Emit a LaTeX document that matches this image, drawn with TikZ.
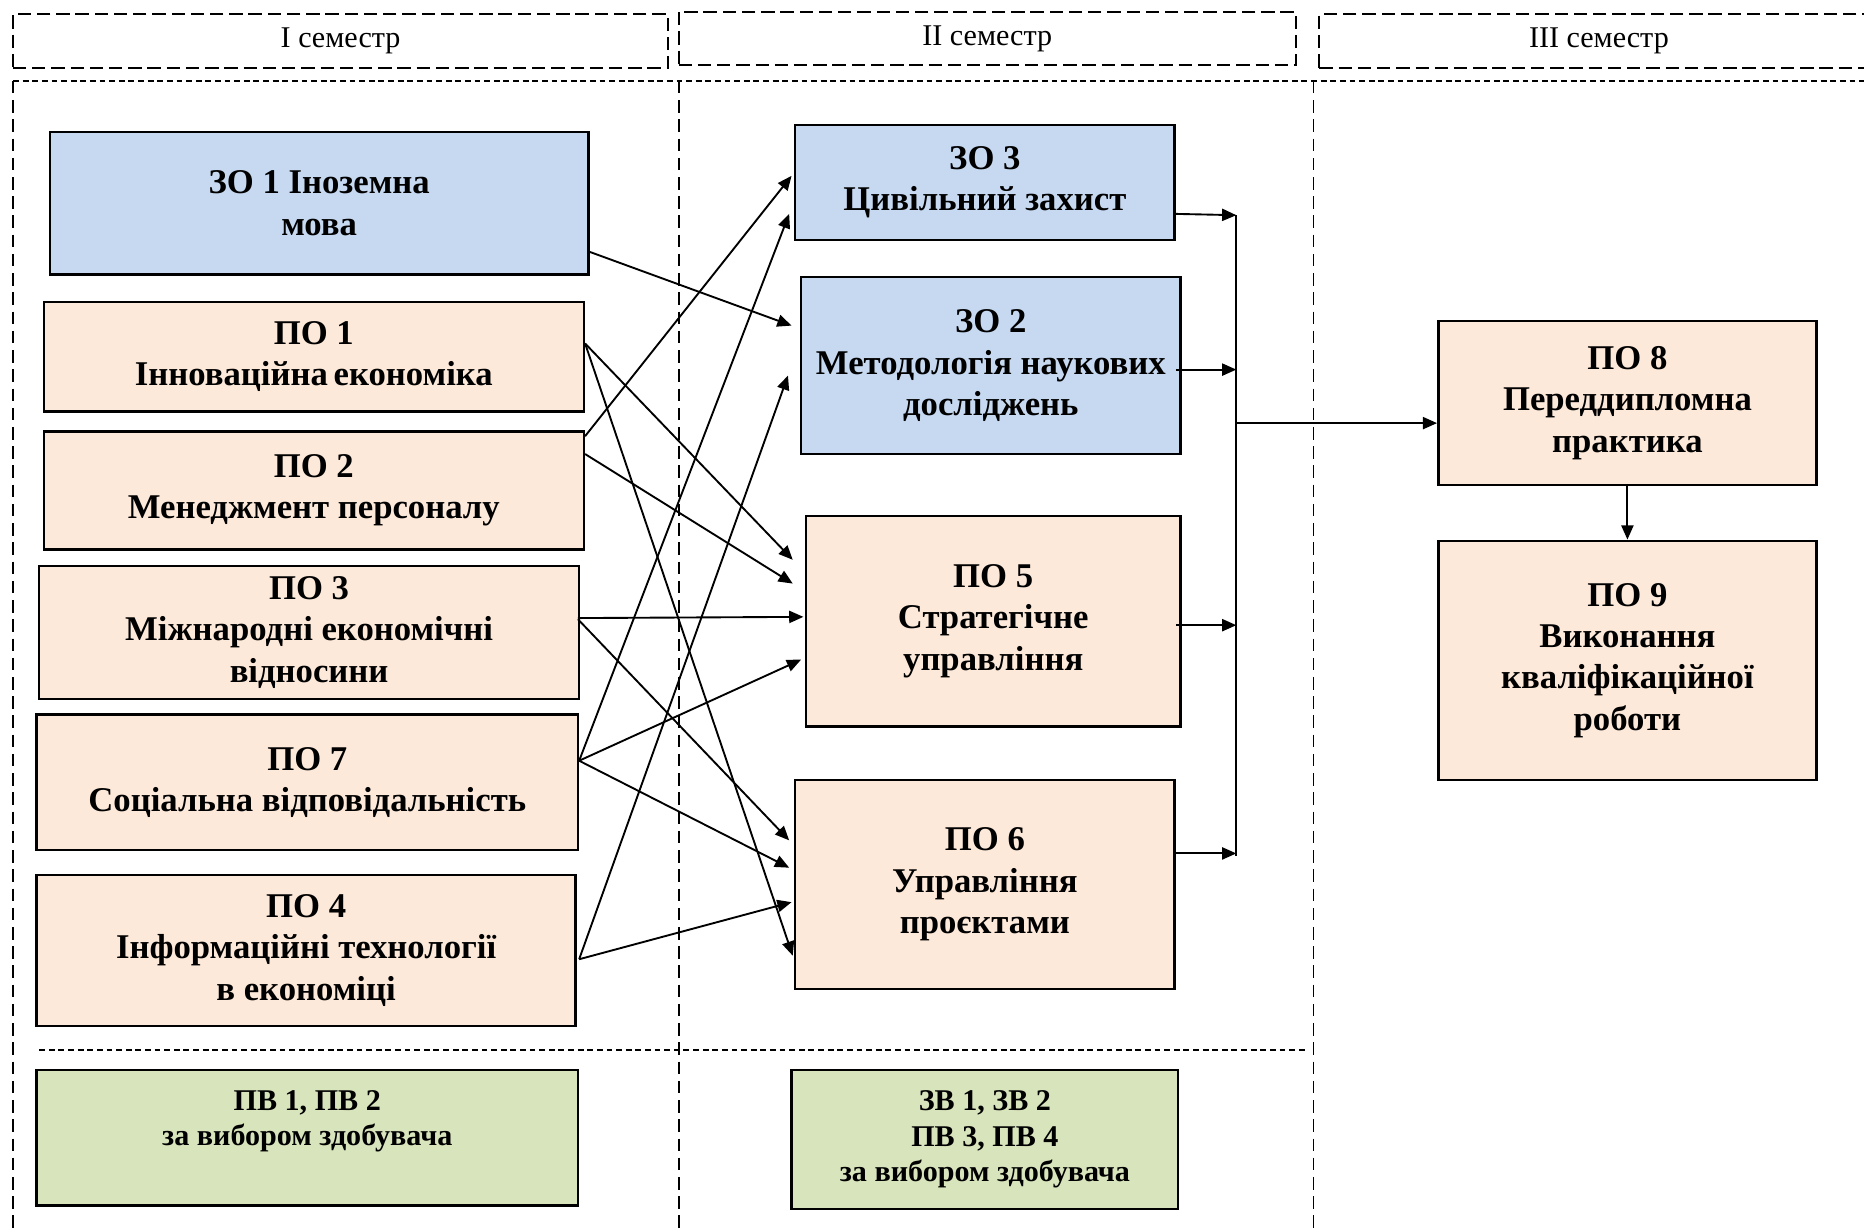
\documentclass[tikz,border=0pt]{standalone}
\usepackage{fontspec}
\setmainfont{Liberation Serif}
\usetikzlibrary{arrows.meta,calc}
\definecolor{blueFill}{RGB}{198,217,241}
\definecolor{peachFill}{RGB}{253,233,217}
\definecolor{greenFill}{RGB}{216,228,188}

\begin{document}
\begin{tikzpicture}[%%
  x=0.01cm,y=-0.01cm,%%
  boxStyle/.style={draw=black,line width=0.6pt,inner sep=0pt,align=center,%%
    font=\bfseries\fontsize{8.3}{9.9}\selectfont},%%
  blueBox/.style={boxStyle,fill=blueFill},%%
  peachBox/.style={boxStyle,fill=peachFill},%%
  greenBox/.style={boxStyle,fill=greenFill},%%
  smallText/.style={align=center,inner sep=0pt,font=\bfseries\fontsize{7.2}{8.4}\selectfont},%%
  headStyle/.style={draw=black,line width=0.45pt,dash pattern=on 3.2pt off 1.4pt,%%
    inner sep=0pt,font=\fontsize{7.2}{8.6}\selectfont},%%
  fineDash/.style={line width=0.4pt,dash pattern=on 1.4pt off 0.9pt},%%
  longDash/.style={line width=0.4pt,dash pattern=on 3pt off 1.6pt},%%
  arrowStyle/.style={-{Triangle[length=3.4pt,width=2.9pt]},line width=0.45pt}%%
]
%%
\useasboundingbox (0,0) rectangle (1568,1035);
%%
\pgfmathsetmacro{\xlow}{11}
\pgfmathsetmacro{\xmid}{571}
\pgfmathsetmacro{\xright}{1105}
\pgfmathsetmacro{\ytop}{68}
\pgfmathsetmacro{\ysplit}{883}
\pgfmathsetmacro{\ybottom}{1035}
%%
%% Semester headers.
\node[headStyle,minimum width=5.51cm,minimum height=0.45cm] (semOne) at (286.5,34.5) {I семестр};
\node[headStyle,minimum width=5.19cm,minimum height=0.45cm] (semTwo) at (830.5,32.5) {II семестр};
\node[headStyle,minimum width=4.70cm,minimum height=0.45cm] (semThree) at (1345,34.5) {III семестр};
%%
%% The dashed grid.
\draw[fineDash] (\xlow,\ytop) -- (1568,\ytop);
\draw[longDash] (\xlow,\ytop) -- (\xlow,\ybottom);
\draw[longDash] (\xmid,\ytop) -- (\xmid,\ybottom);
\draw[longDash] (\xright,\ytop) -- (\xright,\ybottom);
\draw[fineDash] (33,\ysplit) -- (1100,\ysplit);
%%
%% First semester.
\node[blueBox,minimum width=4.53cm,minimum height=1.20cm] (zo1) at (268.5,171) {ЗО 1 Іноземна\\мова};
\node[peachBox,minimum width=4.54cm,minimum height=0.92cm] (po1) at (264,300) {ПО 1\\Інноваційна\,економіка};
\node[peachBox,minimum width=4.54cm,minimum height=0.99cm] (po2) at (264,412.5) {ПО 2\\Менеджмент персоналу};
\node[peachBox,minimum width=4.54cm,minimum height=1.12cm] (po3) at (260,532) {ПО 3\\Міжнародні економічні\\відносини};
\node[peachBox,minimum width=4.55cm,minimum height=1.14cm] (po7) at (258.5,658) {ПО 7\\Соціальна відповідальність};
\node[peachBox,minimum width=4.53cm,minimum height=1.27cm] (po4) at (257.5,799.5) {ПО 4\\Інформаційні технології\\в економіці};
\node[greenBox,minimum width=4.55cm,minimum height=1.14cm] (pv) at (258.5,957) {};
\node[smallText] (pvText) at ($(pv.north)+(0,44)$) {ПВ 1, ПВ 2\\за вибором здобувача};
%%
%% Second semester.
\node[blueBox,minimum width=3.19cm,minimum height=0.97cm] (zo3) at (828.5,153.5) {ЗО 3\\Цивільний захист};
\node[blueBox,minimum width=3.19cm,minimum height=1.49cm] (zo2) at (833.5,307.5) {ЗО 2\\Методологія наукових\\досліджень};
\node[peachBox,minimum width=3.15cm,minimum height=1.77cm] (po5) at (835.5,522.5) {ПО 5\\Стратегічне\\управління};
\node[peachBox,minimum width=3.19cm,minimum height=1.76cm] (po6) at (828.5,744) {ПО 6\\Управління\\проєктами};
\node[greenBox,minimum width=3.25cm,minimum height=1.17cm,font=\bfseries\fontsize{7.2}{8.5}\selectfont] (zv)
  at (828.5,958.5) {ЗВ 1, ЗВ 2\\ПВ 3, ПВ 4\\за вибором здобувача};
%%
%% Third semester.
\node[peachBox,minimum width=3.18cm,minimum height=1.38cm] (po8) at (1369,339) {ПО 8\\Переддипломна\\практика};
\node[peachBox,minimum width=3.18cm,minimum height=2.01cm] (po9) at (1369,555.5) {ПО 9\\Виконання\\кваліфікаційної\\роботи};
%%
%% Links from the first semester to the second.
\draw[arrowStyle] ($(zo1.north east)+(0,102)$) -- ($(zo2.north west)+(-7,42)$);
\draw[arrowStyle] ($(po1.north east)+(0,36)$) -- ($(po5.north west)+(-10,38)$);
\draw[arrowStyle] ($(po1.north east)+(0,36)$) -- ($(po6.north west)+(-1,149)$);
\draw[arrowStyle] ($(po2.north east)+(0,5)$) -- ($(zo3.north west)+(-2,44)$);
\draw[arrowStyle] ($(po2.north east)+(0,20)$) -- ($(po5.north west)+(-10,58)$);
\draw[arrowStyle] ($(po3.north east)+(-2,45)$) -- ($(po5.north west)+(-1,86)$);
\draw[arrowStyle] ($(po3.north east)+(-2,46)$) -- ($(po6.north west)+(-4,52)$);
\draw[arrowStyle] ($(po7.north east)+(0,40)$) -- ($(zo3.north west)+(-4,76)$);
\draw[arrowStyle] ($(po7.north east)+(0,40)$) -- ($(po5.north west)+(-3,122)$);
\draw[arrowStyle] ($(po7.north east)+(0,40)$) -- ($(po6.north west)+(-4,75)$);
\draw[arrowStyle] ($(po4.north east)+(2,72)$) -- ($(zo2.north west)+(-10,84)$);
\draw[arrowStyle] ($(po4.north east)+(2,72)$) -- ($(po6.north west)+(-2,104)$);
%%
%% Collector line towards the third semester.
\coordinate (busTop) at (1040,181);
\coordinate (busBottom) at (1040,720);
\coordinate (zo3Out) at ($(zo3.north east)+(0,76)$);
\coordinate (zo2Out) at ($(zo2.north east)+(-5,79)$);
\coordinate (po5Out) at ($(po5.north east)+(-5,93)$);
\coordinate (po6Out) at ($(po6.north east)+(0,63)$);
\coordinate (po8In) at ($(po8.north west)+(0,87)$);
\draw[line width=0.45pt] (busTop) -- (busBottom);
\draw[arrowStyle] (zo3Out) -- (busTop);
\draw[arrowStyle] (zo2Out) -- (zo2Out -| busTop);
\draw[arrowStyle] (po5Out) -- (po5Out -| busTop);
\draw[arrowStyle] (po6Out) -- (po6Out -| busTop);
\draw[arrowStyle] (busTop |- po8In) -- (po8In);
\draw[arrowStyle] (po8.south) -- (po9.north);
\end{tikzpicture}
\end{document}
